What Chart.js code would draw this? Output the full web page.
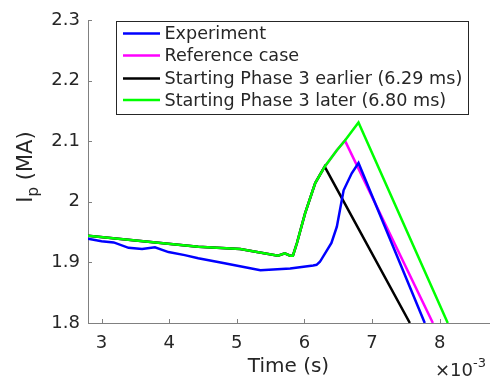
<!DOCTYPE html>
<html>
<head>
<meta charset="utf-8">
<script src="https://cdn.jsdelivr.net/npm/chart.js@4/dist/chart.umd.min.js"></script>
<style>
html,body{margin:0;padding:0;background:#fff;}
#wrap{width:492px;height:377px;position:relative;}
</style>
</head>
<body>
<div id="wrap"><canvas id="c" width="492" height="377"></canvas></div>
<script>
// ---- data (time in ms, i.e. ×10^-3 s; current in MA) ----
const seriesLabels = [
  "Experiment",
  "Reference case",
  "Starting Phase 3 earlier (6.29 ms)",
  "Starting Phase 3 later (6.80 ms)"
];
const seriesColors = ["#0000ff", "#ff00ff", "#000000", "#00ff00"];

const experiment = [
  [2.80,1.939],[3.00,1.935],[3.18,1.933],[3.40,1.924],[3.60,1.922],[3.79,1.925],
  [3.99,1.917],[4.23,1.912],[4.43,1.907],[4.80,1.899],[5.35,1.887],[5.79,1.890],
  [6.13,1.895],[6.18,1.896],[6.23,1.901],[6.40,1.932],[6.48,1.959],[6.58,2.019],
  [6.70,2.047],[6.80,2.064],[7.78,1.800]
];
const referenceCase = [
  [2.80,1.944],[4.43,1.926],[5.05,1.922],[5.61,1.911],[5.71,1.915],[5.79,1.911],
  [5.83,1.911],[5.89,1.932],[6.01,1.981],[6.16,2.031],[6.30,2.058],[6.48,2.085],
  [6.60,2.101],[7.90,1.800]
];
const phase3Earlier = [
  [2.80,1.944],[4.43,1.926],[5.05,1.922],[5.61,1.911],[5.71,1.915],[5.79,1.911],
  [5.83,1.911],[5.89,1.932],[6.01,1.981],[6.16,2.031],[6.30,2.058],[7.56,1.800]
];
const phase3Later = [
  [2.80,1.944],[4.43,1.926],[5.05,1.922],[5.61,1.911],[5.71,1.915],[5.79,1.911],
  [5.83,1.911],[5.89,1.932],[6.01,1.981],[6.16,2.031],[6.30,2.058],[6.48,2.085],
  [6.60,2.101],[6.80,2.131],[8.12,1.800]
];
const seriesData = [experiment, referenceCase, phase3Earlier, phase3Later];
const drawOrder = [1, 3, 2, 0]; // lower = drawn on top

const xTicks = [3,4,5,6,7,8];
const yTicks = [1.8,1.9,2.0,2.1,2.2,2.3];

const xLabel = "Time (s)";
const yLabelMain = "I";
const yLabelSub = "p";
const yLabelRest = " (MA)";

const FONT = "'DejaVu Sans', sans-serif";
const TXT = "#262626";
const AX = "#808080";

const datasets = seriesData.map((d,i)=>({
  label: seriesLabels[i],
  data: d.map(p=>({x:p[0], y:p[1]})),
  borderColor: seriesColors[i],
  backgroundColor: seriesColors[i],
  borderWidth: 2.5,
  pointRadius: 0,
  tension: 0,
  fill: false,
  order: drawOrder[i]
}));

const decorPlugin = {
  id: 'decor',
  afterDatasetsDraw(chart){
    const ctx = chart.ctx;
    const a = chart.chartArea;
    const xs = chart.scales.x, ys = chart.scales.y;
    ctx.save();
    // inward ticks
    ctx.strokeStyle = AX; ctx.lineWidth = 1;
    ctx.beginPath();
    xTicks.forEach(v=>{
      const px = Math.round(xs.getPixelForValue(v))+0.5;
      ctx.moveTo(px, a.bottom); ctx.lineTo(px, a.bottom-4);
    });
    yTicks.forEach(v=>{
      const py = Math.round(ys.getPixelForValue(v))+0.5;
      ctx.moveTo(a.left, py); ctx.lineTo(a.left+4, py);
    });
    ctx.stroke();

    // legend box
    const lx = 116, ly = 21, lw = 352, lh = 93;
    ctx.fillStyle = "#fff";
    ctx.fillRect(lx, ly, lw, lh);
    ctx.strokeStyle = TXT; ctx.lineWidth = 1;
    ctx.strokeRect(lx+0.5, ly+0.5, lw, lh);
    const rows = [33.5, 55.5, 78.5, 100];
    ctx.font = "17.6px " + FONT;
    ctx.textBaseline = "middle";
    ctx.textAlign = "left";
    seriesLabels.forEach((lab,i)=>{
      ctx.strokeStyle = seriesColors[i]; ctx.lineWidth = 2.5;
      ctx.beginPath(); ctx.moveTo(123, rows[i]); ctx.lineTo(160, rows[i]); ctx.stroke();
      ctx.fillStyle = TXT;
      ctx.fillText(lab, 164.5, rows[i]+1);
    });

    // y axis label with subscript
    ctx.save();
    ctx.translate(31.5, 167);
    ctx.rotate(-Math.PI/2);
    ctx.fillStyle = TXT;
    ctx.textBaseline = "alphabetic";
    ctx.font = "21px " + FONT;
    const w1 = ctx.measureText(yLabelMain).width;
    const w3 = ctx.measureText(yLabelRest).width;
    ctx.font = "15px " + FONT;
    const w2 = ctx.measureText(yLabelSub).width;
    const total = w1 + w2 + w3;
    let x0 = -total/2;
    ctx.font = "21px " + FONT;
    ctx.fillText(yLabelMain, x0, 0);
    ctx.font = "15px " + FONT;
    ctx.fillText(yLabelSub, x0 + w1, 6);
    ctx.font = "21px " + FONT;
    ctx.fillText(yLabelRest, x0 + w1 + w2, 0);
    ctx.restore();

    // exponent label
    ctx.fillStyle = TXT;
    ctx.textAlign = "left";
    ctx.textBaseline = "alphabetic";
    ctx.font = "18px " + FONT;
    ctx.fillText("\u00d710", 435, 376);
    const wx = ctx.measureText("\u00d710").width;
    ctx.font = "13px " + FONT;
    ctx.fillText("-3", 435 + wx, 367);
    ctx.restore();
  }
};

new Chart(document.getElementById('c'), {
  type: 'line',
  data: { datasets },
  options: {
    responsive: false,
    animation: false,
    devicePixelRatio: 1,
    layout: { padding: { top: 20, right: 3, left: 0, bottom: 0 } },
    plugins: { legend: { display: false }, tooltip: { enabled: false } },
    scales: {
      x: {
        type: 'linear',
        min: 2.8, max: 8.73,
        grid: { display: false, drawTicks: false },
        border: { display: true, color: AX, width: 1 },
        ticks: {
          stepSize: 1, includeBounds: false, autoSkip: false, maxRotation: 0,
          font: { family: FONT, size: 18 }, color: TXT, padding: 10,
          callback: v => String(v)
        },
        title: { display: true, text: xLabel, font: { family: FONT, size: 20 }, color: TXT, padding: { top: 0, bottom: -2 } },
        afterFit: s => { s.height = 54; }
      },
      y: {
        type: 'linear',
        min: 1.8, max: 2.3,
        grid: { display: false, drawTicks: false },
        border: { display: true, color: AX, width: 1 },
        ticks: {
          stepSize: 0.1, includeBounds: false, autoSkip: false,
          font: { family: FONT, size: 18 }, color: TXT, padding: 8,
          callback: v => String(Number(v.toFixed(1)))
        },
        afterFit: s => { s.width = 88; }
      }
    }
  },
  plugins: [decorPlugin]
});
</script>
</body>
</html>
